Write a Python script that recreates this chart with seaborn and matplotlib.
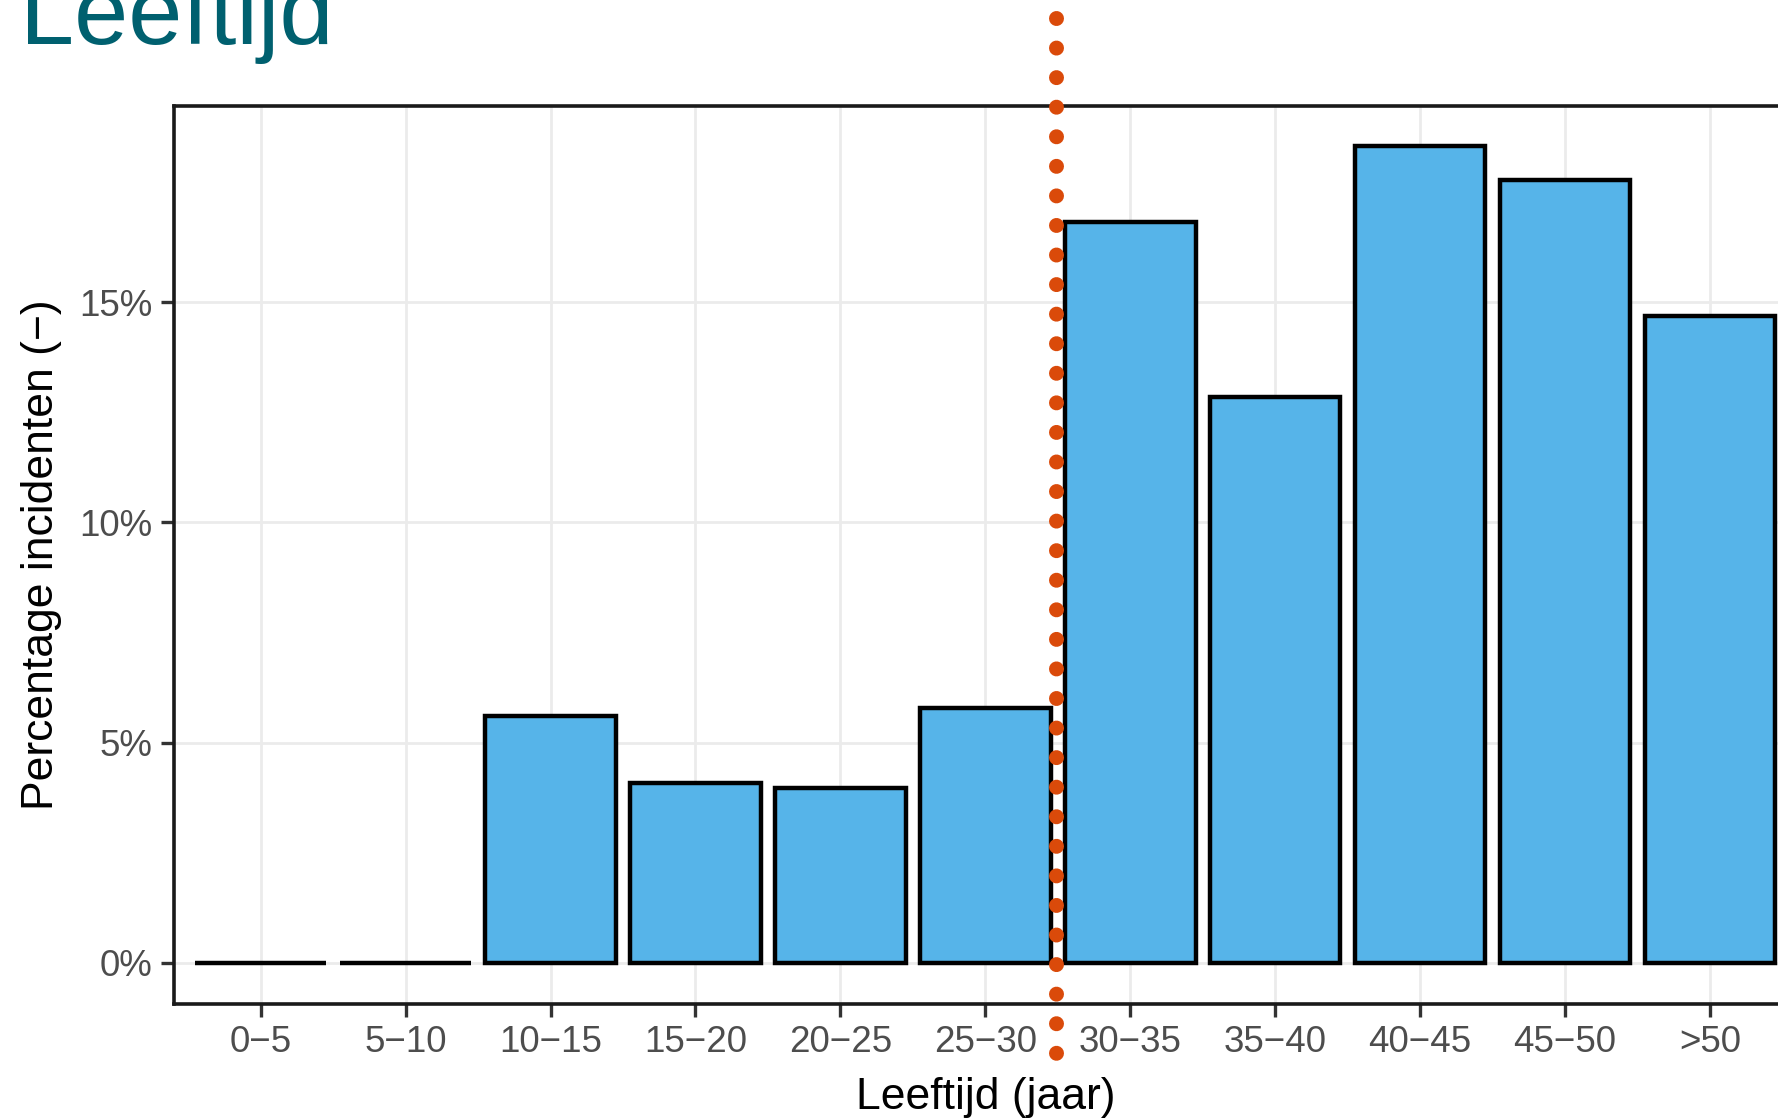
import numpy as np
import pandas as pd
import seaborn as sns
from matplotlib import pyplot as plt
from matplotlib.ticker import FixedLocator

# data
age_groups = ["0−5", "5−10", "10−15", "15−20", "20−25", "25−30",
              "30−35", "35−40", "40−45", "45−50", ">50"]
pct_incidents = [0.0, 0.0, 5.60, 4.08, 3.98, 5.78, 16.82, 12.84, 18.54, 17.77, 14.69]
y_ticks = [0, 5, 10, 15]
y_tick_labels = ["0%", "5%", "10%", "15%"]
marker_x = 5.49  # dotted line between 25-30 and 30-35

df = pd.DataFrame({"age": age_groups, "pct": pct_incidents})

sns.set_style("white")
plt.rcParams["font.family"] = ["Liberation Sans", "DejaVu Sans"]

fig = plt.figure(figsize=(17.78, 11.18), dpi=100)
ax = fig.add_axes([0.0977, 0.1023, 0.913, 0.8033])

sns.barplot(data=df, x="age", y="pct", color="#56B4E9", saturation=1,
            edgecolor="black", linewidth=3.2, width=0.9, ax=ax)

# grid below the bars (barplot switches the x grid off, so set it after)
ax.set_axisbelow(True)
ax.xaxis.grid(True, color="#EBEBEB", linewidth=2.0)
ax.yaxis.grid(True, color="#EBEBEB", linewidth=2.0)

ymax = max(pct_incidents)
pad = ymax * 0.05
ax.set_xlim(-0.6, len(age_groups) - 1 + 0.6)
ax.set_ylim(-pad, ymax + pad)
ax.yaxis.set_major_locator(FixedLocator(y_ticks))
ax.set_yticklabels(y_tick_labels)

for s in ax.spines.values():
    s.set_visible(True)
    s.set_color("#1A1A1A")
    s.set_linewidth(2.6)

ax.tick_params(axis="both", which="major", direction="out", length=9.5, width=2.4,
               color="#333333", labelcolor="#4D4D4D", labelsize=26.5, pad=6)
ax.tick_params(axis="x", bottom=True)
ax.tick_params(axis="y", left=True)

ax.set_xlabel("Leeftijd (jaar)", fontsize=32, color="black", labelpad=12)
ax.set_ylabel("Percentage incidenten (−)", fontsize=32, color="black", labelpad=12)

# orange dotted marker line, runs beyond the panel
ax.plot([marker_x, marker_x], [21.46, -2.05], color="#DA4A0A", linewidth=10.8,
        linestyle=(0, (0.001, 1.97)), dash_capstyle="round", clip_on=False, zorder=5)

fig.text(0.011, 0.961, "Leeftijd", fontsize=70, color="#00606F", ha="left", va="baseline")

fig.savefig("out.png", dpi=100)
